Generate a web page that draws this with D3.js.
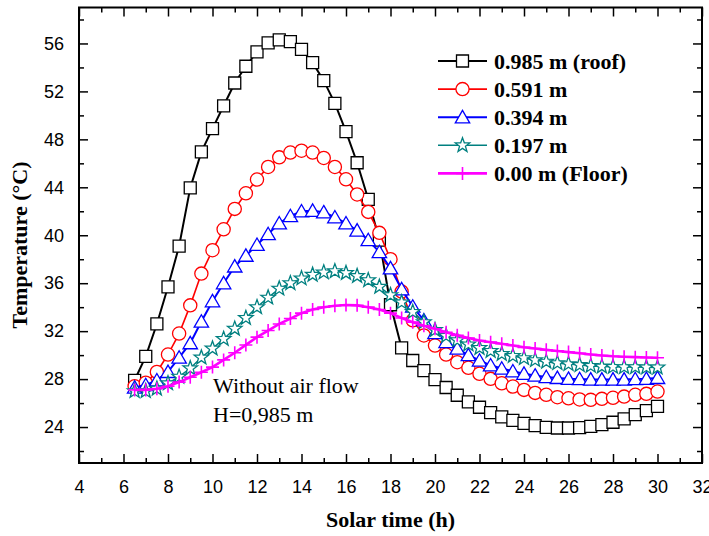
<!DOCTYPE html>
<html>
<head>
<meta charset="utf-8">
<script src="https://cdn.jsdelivr.net/npm/d3@7/dist/d3.min.js"></script>
<style>
    body { margin: 0; background: #fff; }
    svg { display: block; }
</style>
</head>
<body>
<svg id="chart" width="709" height="536"></svg>
<script>
// solar time of each reading (h)
const hours = [6.5, 7, 7.5, 8, 8.5, 9, 9.5, 10,
    10.5, 11, 11.5, 12, 12.5, 13, 13.5, 14,
    14.5, 15, 15.5, 16, 16.5, 17, 17.5, 18,
    18.5, 19, 19.5, 20, 20.5, 21, 21.5, 22,
    22.5, 23, 23.5, 24, 24.5, 25, 25.5, 26,
    26.5, 27, 27.5, 28, 28.5, 29, 29.5, 30];

// temperatures (°C) at each height
const roof = [27.9, 29.9, 32.6, 35.7, 39.1, 43.95, 46.95, 48.9,
    50.8, 52.7, 54.1, 55.3, 56.05, 56.3, 56.15, 55.5,
    54.4, 52.9, 51.0, 48.65, 46.05, 43.0, 39.6, 34.2,
    30.6, 29.55, 28.7, 27.95, 27.3, 26.65, 26.1, 25.65,
    25.2, 24.85, 24.55, 24.3, 24.12, 23.98, 23.92, 23.92,
    23.95, 24.05, 24.2, 24.4, 24.68, 25.04, 25.37, 25.73];

const h591 = [27.4, 27.7, 28.6, 30.05, 31.8, 34.15, 36.8, 38.75,
    40.5, 42.2, 43.5, 44.65, 45.7, 46.5, 46.9, 47.05,
    46.9, 46.45, 45.7, 44.67, 43.4, 41.95, 40.2, 38.0,
    35.3, 32.9, 31.64, 30.8, 30.05, 29.41, 28.94, 28.44,
    28.02, 27.65, 27.38, 27.1, 26.85, 26.69, 26.49, 26.4,
    26.3, 26.27, 26.35, 26.44, 26.54, 26.69, 26.77, 26.96];

const h394 = [27.3, 27.5, 27.9, 28.6, 29.8, 31.0, 32.8, 34.5,
    36.0, 37.4, 38.3, 39.2, 40.1, 41.0, 41.6, 42.0,
    42.05, 41.92, 41.5, 41.0, 40.4, 39.6, 38.6, 37.25,
    35.5, 34.05, 32.9, 31.85, 31.1, 30.55, 30.0, 29.55,
    29.15, 28.88, 28.65, 28.45, 28.3, 28.17, 28.1, 28.03,
    28.0, 27.97, 27.97, 27.97, 27.97, 28.0, 28.03, 28.1];

const h197 = [27.0, 27.0, 27.2, 27.65, 28.2, 28.9, 29.8, 30.55,
    31.35, 32.2, 33.1, 34.0, 34.8, 35.55, 36.0, 36.4,
    36.7, 36.9, 37.0, 36.85, 36.6, 36.25, 35.7, 35.0,
    34.4, 33.6, 32.75, 32.1, 31.6, 31.25, 30.9, 30.6,
    30.35, 30.1, 29.93, 29.75, 29.58, 29.45, 29.33, 29.25,
    29.17, 29.1, 29.05, 29.02, 29.0, 29.0, 28.98, 28.97];

const floorTemp = [27.1, 27.1, 27.2, 27.4, 27.75, 28.15, 28.57, 29.0,
    29.6, 30.2, 30.85, 31.5, 32.05, 32.6, 33.05, 33.5,
    33.8, 34.0, 34.12, 34.18, 34.15, 34.0, 33.8, 33.5,
    33.1, 32.75, 32.45, 32.2, 31.9, 31.65, 31.42, 31.22,
    31.08, 30.95, 30.8, 30.65, 30.55, 30.44, 30.35, 30.25,
    30.15, 30.05, 29.97, 29.9, 29.86, 29.83, 29.8, 29.78];

const seriesNames = ['0.985 m (roof)', '0.591 m', '0.394 m', '0.197 m', '0.00 m (Floor)'];

const xTicks = [4, 6, 8, 10, 12, 14, 16, 18, 20, 22, 24, 26, 28, 30, 32];
const xMinor = [5, 7, 9, 11, 13, 15, 17, 19, 21, 23, 25, 27, 29, 31];
const yTicks = [24, 28, 32, 36, 40, 44, 48, 52, 56];
const yMinor = [22, 26, 30, 34, 38, 42, 46, 50, 54, 58];

const noteLines = ['Without air flow', 'H=0,985 m'];

// ---------------------------------------------------------------

const svg = d3.select('#chart');
const plot = {left: 79, right: 702, top: 7.5, bottom: 463};

const x = d3.scaleLinear().domain([4, 32]).range([plot.left, plot.right]);
const y = d3.scaleLinear().domain([21, 59]).range([plot.bottom, plot.top]);

const serif = '"Liberation Serif", "Times New Roman", serif';
const sans = '"Liberation Sans", Arial, sans-serif';

// style of every series, in drawing order
const styles = [
    {values: roof, color: '#000000', lineWidth: 2, marker: 'square'},
    {values: h591, color: '#ff0000', lineWidth: 1.6, marker: 'circle'},
    {values: h394, color: '#0000ff', lineWidth: 2, marker: 'triangle'},
    {values: h197, color: '#008080', lineWidth: 1.5, marker: 'star'},
    {values: floorTemp, color: '#ff00ff', lineWidth: 2.6, marker: 'plus'}
];

function starPath(R, r) {
    let pts = [];
    for (let i = 0; i < 10; i++) {
        let rad = i % 2 === 0 ? R : r;
        let a = -Math.PI / 2 + i * Math.PI / 5;
        pts.push([rad * Math.cos(a), rad * Math.sin(a)]);
    }
    return 'M' + pts.map(p => p[0].toFixed(2) + ',' + p[1].toFixed(2)).join('L') + 'Z';
}

const markerPaths = {
    square: 'M-6,-6H6V6H-6Z',
    circle: d3.arc()({innerRadius: 0, outerRadius: 6.6, startAngle: 0, endAngle: 2 * Math.PI}),
    triangle: 'M0,-6.8L7.2,5.6H-7.2Z',
    star: starPath(7.6, 3.1),
    plus: 'M0,-6.5V6.5M-6.5,0H6.5'
};

function drawMarker(g, s) {
    let isPlus = s.marker === 'plus';
    g.append('path')
        .attr('d', markerPaths[s.marker])
        .attr('fill', isPlus ? 'none' : '#ffffff')
        .attr('stroke', s.color)
        .attr('stroke-width', isPlus ? 1.6 : 1.3);
}

// axes: ticks point inwards on all four sides
function addAxis(axis, tx, ty, values, size, labels) {
    let g = svg.append('g')
        .attr('transform', `translate(${tx},${ty})`)
        .call(axis.tickValues(values).tickSizeInner(-size).tickSizeOuter(0)
            .tickFormat(labels ? d3.format('d') : ''));
    g.select('.domain').remove();
    g.selectAll('.tick line').attr('stroke', '#000').attr('stroke-width', 1.5);
    g.selectAll('text').attr('font-family', sans).attr('font-size', 18).attr('fill', '#000');
    return g;
}

addAxis(d3.axisBottom(x).tickPadding(17), 0, plot.bottom, xTicks, 9, true);
addAxis(d3.axisBottom(x), 0, plot.bottom, xMinor, 5, false);
addAxis(d3.axisTop(x), 0, plot.top, xTicks, 9, false);
addAxis(d3.axisTop(x), 0, plot.top, xMinor, 5, false);
addAxis(d3.axisLeft(y).tickPadding(15), plot.left, 0, yTicks, 9, true);
addAxis(d3.axisLeft(y), plot.left, 0, yMinor, 5, false);
addAxis(d3.axisRight(y), plot.right, 0, yTicks, 9, false);
addAxis(d3.axisRight(y), plot.right, 0, yMinor, 5, false);

// series: line first, then markers on top
styles.forEach(s => {
    let pts = hours.map((h, i) => [h, s.values[i]]);
    let line = d3.line().x(d => x(d[0])).y(d => y(d[1]));

    svg.append('path')
        .datum(pts)
        .attr('d', line)
        .attr('fill', 'none')
        .attr('stroke', s.color)
        .attr('stroke-width', s.lineWidth);

    svg.append('g').selectAll('g')
        .data(pts).enter()
        .append('g')
        .attr('transform', d => `translate(${x(d[0])},${y(d[1])})`)
        .each(function () { drawMarker(d3.select(this), s); });
});

// frame
svg.append('rect')
    .attr('x', plot.left).attr('y', plot.top)
    .attr('width', plot.right - plot.left)
    .attr('height', plot.bottom - plot.top)
    .attr('fill', 'none')
    .attr('stroke', '#000')
    .attr('stroke-width', 2);

// legend
let legend = svg.append('g');
seriesNames.forEach((name, i) => {
    let s = styles[i];
    let cy = 61 + i * 28.1;
    legend.append('line')
        .attr('x1', 438).attr('x2', 487)
        .attr('y1', cy).attr('y2', cy)
        .attr('stroke', s.color)
        .attr('stroke-width', s.lineWidth);
    drawMarker(legend.append('g').attr('transform', `translate(462.5,${cy})`), s);
    legend.append('text')
        .attr('x', 494).attr('y', cy + 7.5)
        .attr('font-family', serif)
        .attr('font-weight', 'bold')
        .attr('font-size', 22)
        .text(name);
});

// note inside the plot
noteLines.forEach((t, i) => {
    svg.append('text')
        .attr('x', 213).attr('y', 393 + i * 28.5)
        .attr('font-family', serif)
        .attr('font-size', 22)
        .text(t);
});

// axis titles
svg.append('text')
    .attr('x', 390.5).attr('y', 527)
    .attr('text-anchor', 'middle')
    .attr('font-family', serif)
    .attr('font-weight', 'bold')
    .attr('font-size', 22)
    .text('Solar time (h)');

svg.append('text')
    .attr('transform', 'translate(27,245) rotate(-90)')
    .attr('text-anchor', 'middle')
    .attr('font-family', serif)
    .attr('font-weight', 'bold')
    .attr('font-size', 22)
    .text('Temperature (°C)');
</script>
</body>
</html>
